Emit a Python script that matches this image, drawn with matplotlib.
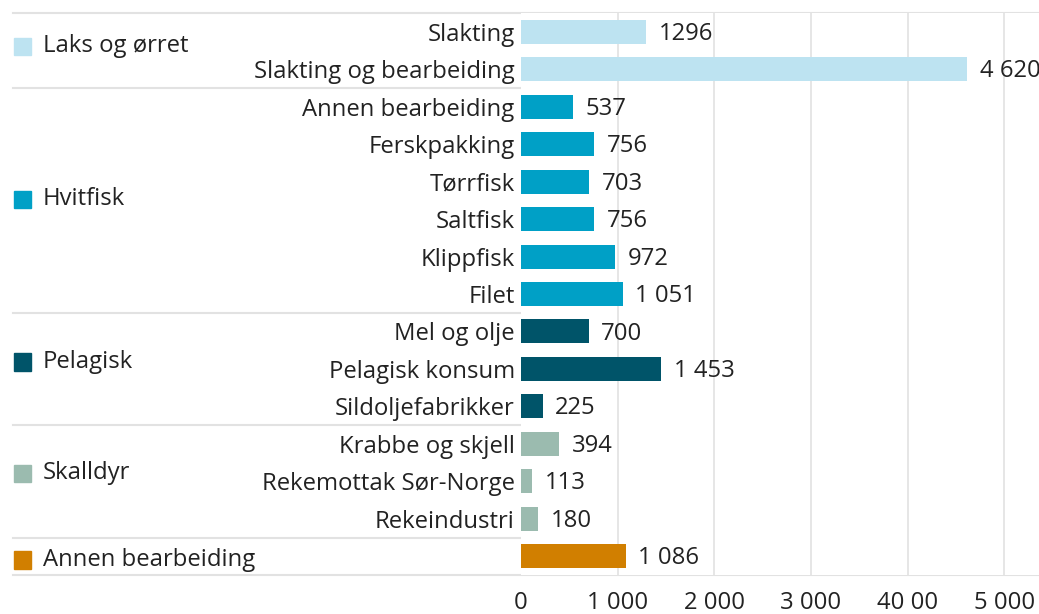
import matplotlib
matplotlib.use("Agg")
import matplotlib.pyplot as plt
import matplotlib.transforms as mtransforms
from matplotlib.patches import Rectangle
from matplotlib.lines import Line2D

plt.rcParams['font.family'] = ['Open Sans', 'DejaVu Sans']

categories = ["Slakting", "Slakting og bearbeiding",
              "Annen bearbeiding", "Ferskpakking", "Tørrfisk", "Saltfisk", "Klippfisk", "Filet",
              "Mel og olje", "Pelagisk konsum", "Sildoljefabrikker",
              "Krabbe og skjell", "Rekemottak Sør-Norge", "Rekeindustri",
              ""]
values = [1296, 4620, 537, 756, 703, 756, 972, 1051, 700, 1453, 225, 394, 113, 180, 1086]
value_labels = ["1296", "4 620", "537", "756", "703", "756", "972", "1 051",
                "700", "1 453", "225", "394", "113", "180", "1 086"]
groups = ["Laks og ørret", "Hvitfisk", "Pelagisk", "Skalldyr", "Annen bearbeiding"]
group_sizes = [2, 6, 3, 3, 1]
group_colors = ["#bde3f1", "#00a0c6", "#005469", "#9bbbaf", "#d17f00"]
xticks = [0, 1000, 2000, 3000, 4000, 5000]
xtick_labels = ["0", "1 000", "2 000", "3 000", "40 00", "5 000"]

# vertical nudge of group labels (pixels, positive = up)
group_label_nudge = [4, 1, 7, 8, -4]

W, H = 1039, 614
fig = plt.figure(figsize=(W / 100, H / 100), dpi=100)
ax = fig.add_axes([521 / W, 1 - 575 / H, 1 - 521 / W, (575 - 13) / H])

n = len(values)
colors = []
for g, s in zip(group_colors, group_sizes):
    colors += [g] * s
ys = list(range(n))
ax.barh(ys, values, height=0.64, color=colors, zorder=2)
ax.set_ylim(n - 0.5, -0.5)
ax.set_xlim(0, 5360)

fs = 17.2
tc = '#222222'
for y, v, lab in zip(ys, values, value_labels):
    ax.annotate(lab, (v, y), xytext=(9, -1.5), textcoords='offset points',
                ha='left', va='center', fontsize=fs, color=tc, zorder=3)

ax.set_yticks(ys)
ax.set_yticklabels(categories, fontsize=fs, color=tc)
ax.tick_params(axis='y', length=0, pad=4.5)
ax.set_xticks(xticks)
ax.set_xticklabels(xtick_labels, fontsize=fs, color=tc)
ax.tick_params(axis='x', length=0, pad=11.5)
for xt in xticks[1:]:
    ax.axvline(xt, color='#e2e2e2', lw=1.2, zorder=1)
for sp in ax.spines.values():
    sp.set_visible(False)

blend = mtransforms.blended_transform_factory(fig.transFigure, ax.transData)
start = 0
bounds = [-0.5]
for gname, s, c, nud in zip(groups, group_sizes, group_colors, group_label_nudge):
    center = start + (s - 1) / 2
    off = mtransforms.offset_copy(blend, fig=fig, x=0, y=nud, units='dots')
    fig.add_artist(Rectangle((14 / W, center - 0.235), 17 / W, 0.47,
                             transform=off, color=c, clip_on=False))
    fig.text(43 / W, center, gname, transform=off, fontsize=fs,
             color=tc, ha='left', va='center')
    start += s
    bounds.append(start - 0.5)
for b in bounds:
    fig.add_artist(Line2D([13 / W, 1.0], [b, b], transform=blend,
                          color='#e2e2e2', lw=1.5, zorder=0))

fig.savefig("out.png", dpi=100)
